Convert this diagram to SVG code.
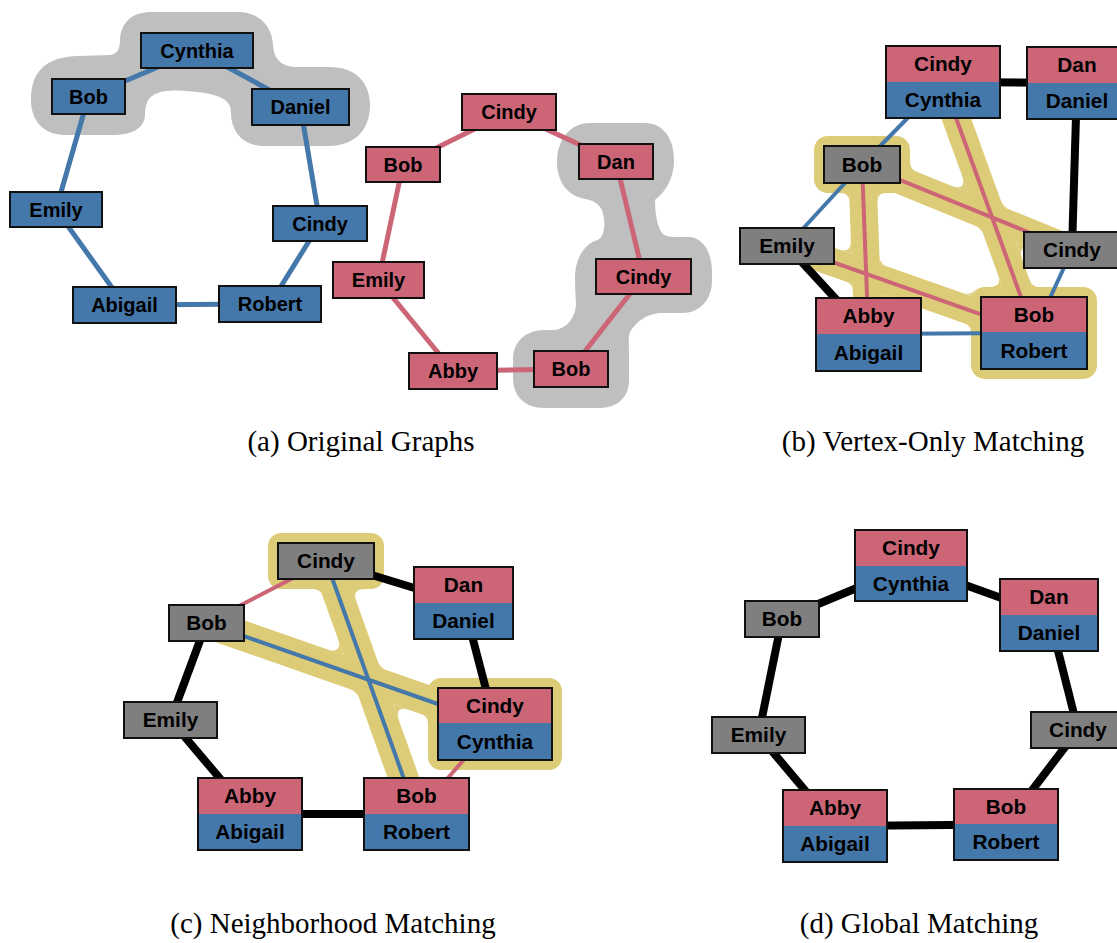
<svg xmlns="http://www.w3.org/2000/svg" width="1117" height="943" viewBox="0 0 1117 943">
  <style>
    .lbl { font-family: "Liberation Sans", Arial, Helvetica, sans-serif; font-weight: bold; font-size: 20px; text-anchor: middle; fill: #000; }
    .big .lbl { font-size: 20.8px; }
    .cap { font-family: "Liberation Serif", "Times New Roman", serif; font-size: 29px; text-anchor: middle; fill: #000; }
    .fb { fill: #4477AA; }
    .fp { fill: #CC6677; }
    .fg { fill: #7F7F7F; }
    .box { stroke: #111; stroke-width: 2; }
    .frame { fill: none; stroke: #111; stroke-width: 2; }
    .hull-gray { fill: #BFBFBF; }
    .hull-sand { fill: #DDCC77; }
    .band-sand { fill: none; stroke: #DDCC77; stroke-linecap: round; }
    .e { fill: none; stroke-linecap: butt; }
    .eb { stroke: #4477AA; }
    .ep { stroke: #CC6677; }
    .ek { stroke: #000; stroke-width: 8; }
    .w5 { stroke-width: 5; }
    .w4 { stroke-width: 4; }
  </style>

  <!-- ===================== (a) Original Graphs ===================== -->
  <g id="a-hulls">
    <!-- Bob / Cynthia / Daniel group -->
    <path class="hull-gray" d="M31,100 C31,72 45,57 78,56 L110,55 C118,54 120,48 120,40 C121,22 132,12 152,12 L238,12 C258,12 272,25 273,45 C274,60 282,67 298,67 L330,67 C355,67 370,82 370,105 C370,130 355,146 328,146 L265,146 C243,146 231,132 231,112 C231,101 222,96 205,93 C185,90 165,89 155,94 C147,98 145,106 145,114 C145,128 133,135 112,135 L65,135 C44,135 31,121 31,100 Z"/>
    <!-- Dan / Cindy / Bob group -->
    <path class="hull-gray" d="M590,123 L645,123 C663,123 674,138 674,160 C674,180 664,193 655,200 C655,215 658,228 662,233 C665,237 672,237 680,237 L688,237 C703,237 712,252 712,272 L712,280 C712,300 700,313 682,313 L660,313 C646,314 636,322 630,332 C628,337 629,345 629,355 L629,380 C629,398 617,408 598,408 L544,408 C525,408 513,396 513,378 L513,360 C513,341 526,330 545,330 L555,330 C567,328 575,318 576,305 C576,298 575,290 575,278 C575,258 585,243 598,240 C605,236 606,222 602,210 C598,203 592,200 585,199 C568,196 557,182 557,162 C557,140 570,123 590,123 Z"/>
  </g>

  <g id="a-connectors">
    <g class="e eb w5">
      <line x1="88.5" y1="96.5" x2="197" y2="50.5"/>
      <line x1="197" y1="50.5" x2="300.5" y2="107"/>
      <line x1="300.5" y1="107" x2="320" y2="223.5"/>
      <line x1="320" y1="223.5" x2="270" y2="304"/>
      <line x1="270" y1="304" x2="124.5" y2="305"/>
      <line x1="124.5" y1="305" x2="56" y2="209.5"/>
      <line x1="56" y1="209.5" x2="88.5" y2="96.5"/>
    </g>
    <g class="e ep w5">
      <line x1="403" y1="164.5" x2="509" y2="112"/>
      <line x1="509" y1="112" x2="616" y2="161.5"/>
      <line x1="616" y1="161.5" x2="643.5" y2="276.5"/>
      <line x1="643.5" y1="276.5" x2="571" y2="369"/>
      <line x1="571" y1="369" x2="453" y2="371"/>
      <line x1="453" y1="371" x2="378.5" y2="280"/>
      <line x1="378.5" y1="280" x2="403" y2="164.5"/>
    </g>
  </g>

  <g id="a-blue-cynthia"><rect class="fb box" x="141" y="33" width="112" height="35"/><text class="lbl" x="197" y="57.5">Cynthia</text></g>
  <g id="a-blue-bob"><rect class="fb box" x="52" y="79" width="73" height="35"/><text class="lbl" x="88.5" y="103.5">Bob</text></g>
  <g id="a-blue-daniel"><rect class="fb box" x="252" y="89" width="97" height="36"/><text class="lbl" x="300.5" y="114">Daniel</text></g>
  <g id="a-blue-emily"><rect class="fb box" x="10" y="192" width="92" height="35"/><text class="lbl" x="56" y="216.5">Emily</text></g>
  <g id="a-blue-cindy"><rect class="fb box" x="273" y="206" width="94" height="35"/><text class="lbl" x="320" y="230.5">Cindy</text></g>
  <g id="a-blue-abigail"><rect class="fb box" x="73" y="287" width="103" height="36"/><text class="lbl" x="124.5" y="312">Abigail</text></g>
  <g id="a-blue-robert"><rect class="fb box" x="219" y="286" width="102" height="36"/><text class="lbl" x="270" y="311">Robert</text></g>

  <g id="a-pink-cindy"><rect class="fp box" x="462" y="94" width="94" height="36"/><text class="lbl" x="509" y="119">Cindy</text></g>
  <g id="a-pink-bob"><rect class="fp box" x="366" y="147" width="74" height="35"/><text class="lbl" x="403" y="171.5">Bob</text></g>
  <g id="a-pink-dan"><rect class="fp box" x="579" y="144" width="74" height="35"/><text class="lbl" x="616" y="168.5">Dan</text></g>
  <g id="a-pink-emily"><rect class="fp box" x="333" y="262" width="91" height="36"/><text class="lbl" x="378.5" y="287">Emily</text></g>
  <g id="a-pink-cindy2"><rect class="fp box" x="596" y="259" width="95" height="35"/><text class="lbl" x="643.5" y="283.5">Cindy</text></g>
  <g id="a-pink-abby"><rect class="fp box" x="409" y="353" width="88" height="36"/><text class="lbl" x="453" y="378">Abby</text></g>
  <g id="a-pink-bob2"><rect class="fp box" x="534" y="351" width="74" height="36"/><text class="lbl" x="571" y="376">Bob</text></g>

  <text class="cap" x="361" y="451">(a) Original Graphs</text>

  <!-- ===================== (b) Vertex-Only Matching ===================== -->
  <g id="b-hulls">
    <rect class="hull-sand" x="814" y="136" width="96" height="57" rx="14"/>
    <rect class="hull-sand" x="971" y="287" width="126" height="92" rx="14"/>
    <g class="band-sand" stroke-width="28">
      <line x1="862" y1="164.5" x2="868.5" y2="334.5"/>
      <line x1="862" y1="164.5" x2="1072" y2="250"/>
      <line x1="787" y1="246" x2="1034" y2="333"/>
      <line x1="943" y1="82" x2="1034" y2="333"/>
    </g>
    <!-- rounded fillets in the concave corners of the region -->
    <g class="hull-sand">
      <path d="M879.54,256.85 L879.81,263.85 L886.41,266.18 Q879.81,263.85 879.54,256.85 Z"/>
      <path d="M850.9,240.56 L851.41,253.85 L838.87,249.43 Q851.41,253.85 850.9,240.56 Z"/>
      <path d="M852.83,290.95 L852.56,283.95 L845.96,281.62 Q852.56,283.95 852.83,290.95 Z"/>
      <path d="M881.47,307.2 L880.96,293.95 L893.5,298.4 Q880.96,293.95 881.47,307.2 Z"/>
      <path d="M949.51,185.02 L968.22,192.64 L961.34,173.65 Q968.22,192.64 949.51,185.02 Z"/>
      <path d="M1034.73,249.94 L1016.02,242.32 L1022.9,261.3 Q1016.02,242.32 1034.73,249.94 Z"/>
      <path d="M1009.64,209.5 L1003.16,206.86 L1000.77,200.28 Q1003.16,206.86 1009.64,209.5 Z"/>
      <path d="M974.6,225.46 L981.08,228.1 L983.47,234.68 Q981.08,228.1 974.6,225.46 Z"/>
      <path d="M910,161.9 L910,168.9 L916.48,171.54 Q910,168.9 910,161.9 Z"/>
      <path d="M840.4,193 L849.1,193 L849.43,201.69 Q849.1,193 840.4,193 Z"/>
      <path d="M886.4,193 L877.1,193 L877.46,202.29 Q877.1,193 886.4,193 Z"/>
      <path d="M989.53,287 L1002.43,287 L998.03,274.87 Q1002.43,287 989.53,287 Z"/>
      <path d="M963.8,293.1 L972,296 L975.1,287.9 Q972,296 963.8,293.1 Z"/>
      <path d="M971,332.6 L971,325.6 L964.4,323.27 Q971,325.6 971,332.6 Z"/>
      <path d="M1039.2,287 L1032.2,287 L1029.8,280.4 Q1032.2,287 1039.2,287 Z"/>
    </g>
  </g>

  <g id="b-connectors">
    <g class="e ek">
      <line x1="943" y1="82" x2="1077" y2="83"/>
      <line x1="1077" y1="83" x2="1072" y2="250"/>
      <line x1="787" y1="246" x2="868.5" y2="334.5"/>
    </g>
    <g class="e eb w4">
      <line x1="943" y1="82" x2="862" y2="164.5"/>
      <line x1="862" y1="164.5" x2="787" y2="246"/>
      <line x1="1072" y1="250" x2="1034" y2="333"/>
      <line x1="868.5" y1="334" x2="1034" y2="333"/>
    </g>
    <g class="e ep w4">
      <line x1="862" y1="164.5" x2="868.5" y2="334.5"/>
      <line x1="862" y1="164.5" x2="1072" y2="250"/>
      <line x1="787" y1="246" x2="1034" y2="333"/>
      <line x1="943" y1="82" x2="1034" y2="333"/>
    </g>
  </g>

  <g class="big">
    <g id="b-cindy-cynthia">
      <rect class="fp" x="886" y="46" width="114" height="36"/><rect class="fb" x="886" y="82" width="114" height="36"/>
      <rect class="frame" x="886" y="46" width="114" height="72"/>
      <text class="lbl" x="943" y="71">Cindy</text><text class="lbl" x="943" y="107">Cynthia</text>
    </g>
    <g id="b-dan-daniel">
      <rect class="fp" x="1027" y="47" width="100" height="36"/><rect class="fb" x="1027" y="83" width="100" height="36"/>
      <rect class="frame" x="1027" y="47" width="100" height="72"/>
      <text class="lbl" x="1077" y="72">Dan</text><text class="lbl" x="1077" y="108">Daniel</text>
    </g>
    <g id="b-bob"><rect class="fg box" x="824" y="146" width="76" height="37"/><text class="lbl" x="862" y="171.5">Bob</text></g>
    <g id="b-emily"><rect class="fg box" x="740" y="228" width="94" height="36"/><text class="lbl" x="787" y="253">Emily</text></g>
    <g id="b-cindy"><rect class="fg box" x="1024" y="232" width="96" height="36"/><text class="lbl" x="1072" y="257">Cindy</text></g>
    <g id="b-abby-abigail">
      <rect class="fp" x="816" y="298" width="105" height="36"/><rect class="fb" x="816" y="334" width="105" height="37"/>
      <rect class="frame" x="816" y="298" width="105" height="73"/>
      <text class="lbl" x="868.5" y="323">Abby</text><text class="lbl" x="868.5" y="359.5">Abigail</text>
    </g>
    <g id="b-bob-robert">
      <rect class="fp" x="981" y="297" width="106" height="35"/><rect class="fb" x="981" y="332" width="106" height="37"/>
      <rect class="frame" x="981" y="297" width="106" height="72"/>
      <text class="lbl" x="1034" y="321.5">Bob</text><text class="lbl" x="1034" y="357.5">Robert</text>
    </g>
  </g>

  <text class="cap" x="933" y="451">(b) Vertex-Only Matching</text>

  <!-- ===================== (c) Neighborhood Matching ===================== -->
  <g id="c-hulls">
    <rect class="hull-sand" x="268" y="533" width="116" height="56" rx="13"/>
    <rect class="hull-sand" x="428" y="678" width="134" height="92" rx="13"/>
    <g class="band-sand" stroke-width="30">
      <line x1="206.5" y1="623" x2="495" y2="724"/>
      <line x1="326" y1="561" x2="416.5" y2="814"/>
    </g>
    <!-- rounded fillets in the concave corners of the region -->
    <g class="hull-sand">
      <path d="M411.03,710.49 L393.19,704.25 L399.56,722.05 Q393.19,704.25 411.03,710.49 Z"/>
      <path d="M325.91,648.91 L343.75,655.15 L337.38,637.35 Q343.75,655.15 325.91,648.91 Z"/>
      <path d="M386.8,670.22 L380.19,667.91 L377.83,661.32 Q380.19,667.91 386.8,670.22 Z"/>
      <path d="M350.14,689.18 L356.75,691.49 L359.11,698.08 Q356.75,691.49 350.14,689.18 Z"/>
      <path d="M313.1,589 L320.1,589 L322.46,595.59 Q320.1,589 313.1,589 Z"/>
      <path d="M364.8,589 L351.9,589 L356.24,601.15 Q351.9,589 364.8,589 Z"/>
      <path d="M428,723.4 L428,716.4 L421.39,714.09 Q428,716.4 428,723.4 Z"/>
    </g>
  </g>

  <g id="c-connectors">
    <g class="e ek">
      <line x1="326" y1="561" x2="463.5" y2="603"/>
      <line x1="463.5" y1="603" x2="495" y2="724"/>
      <line x1="206.5" y1="623" x2="170.5" y2="720"/>
      <line x1="170.5" y1="720" x2="250" y2="814"/>
      <line x1="250" y1="814" x2="416.5" y2="814"/>
    </g>
    <g class="e ep w4">
      <line x1="206.5" y1="623" x2="326" y2="561"/>
      <line x1="495" y1="724" x2="416.5" y2="814"/>
    </g>
    <g class="e eb w4">
      <line x1="206.5" y1="623" x2="495" y2="724"/>
      <line x1="326" y1="561" x2="416.5" y2="814"/>
    </g>
  </g>

  <g class="big">
    <g id="c-cindy"><rect class="fg box" x="278" y="543" width="96" height="36"/><text class="lbl" x="326" y="568">Cindy</text></g>
    <g id="c-dan-daniel">
      <rect class="fp" x="414" y="567" width="99" height="36"/><rect class="fb" x="414" y="603" width="99" height="36"/>
      <rect class="frame" x="414" y="567" width="99" height="72"/>
      <text class="lbl" x="463.5" y="592">Dan</text><text class="lbl" x="463.5" y="628">Daniel</text>
    </g>
    <g id="c-bob"><rect class="fg box" x="169" y="605" width="75" height="36"/><text class="lbl" x="206.5" y="630">Bob</text></g>
    <g id="c-emily"><rect class="fg box" x="124" y="702" width="93" height="36"/><text class="lbl" x="170.5" y="727">Emily</text></g>
    <g id="c-cindy-cynthia">
      <rect class="fp" x="438" y="688" width="114" height="35"/><rect class="fb" x="438" y="723" width="114" height="37"/>
      <rect class="frame" x="438" y="688" width="114" height="72"/>
      <text class="lbl" x="495" y="712.5">Cindy</text><text class="lbl" x="495" y="748.5">Cynthia</text>
    </g>
    <g id="c-abby-abigail">
      <rect class="fp" x="198" y="778" width="104" height="36"/><rect class="fb" x="198" y="814" width="104" height="36"/>
      <rect class="frame" x="198" y="778" width="104" height="72"/>
      <text class="lbl" x="250" y="803">Abby</text><text class="lbl" x="250" y="839">Abigail</text>
    </g>
    <g id="c-bob-robert">
      <rect class="fp" x="364" y="778" width="105" height="36"/><rect class="fb" x="364" y="814" width="105" height="36"/>
      <rect class="frame" x="364" y="778" width="105" height="72"/>
      <text class="lbl" x="416.5" y="803">Bob</text><text class="lbl" x="416.5" y="839">Robert</text>
    </g>
  </g>

  <text class="cap" x="333" y="933">(c) Neighborhood Matching</text>

  <!-- ===================== (d) Global Matching ===================== -->
  <g id="d-connectors">
    <g class="e ek" stroke-width="8.5">
      <line x1="782" y1="619" x2="911" y2="565.5"/>
      <line x1="911" y1="565.5" x2="1049" y2="615"/>
      <line x1="1049" y1="615" x2="1078" y2="730"/>
      <line x1="1078" y1="730" x2="1006" y2="824.5"/>
      <line x1="1006" y1="824.5" x2="835" y2="826"/>
      <line x1="835" y1="826" x2="758.5" y2="735"/>
      <line x1="758.5" y1="735" x2="782" y2="619"/>
    </g>
  </g>

  <g class="big">
    <g id="d-cindy-cynthia">
      <rect class="fp" x="855" y="530" width="112" height="36"/><rect class="fb" x="855" y="566" width="112" height="35"/>
      <rect class="frame" x="855" y="530" width="112" height="71"/>
      <text class="lbl" x="911" y="555">Cindy</text><text class="lbl" x="911" y="590.5">Cynthia</text>
    </g>
    <g id="d-dan-daniel">
      <rect class="fp" x="1000" y="579" width="98" height="36"/><rect class="fb" x="1000" y="615" width="98" height="36"/>
      <rect class="frame" x="1000" y="579" width="98" height="72"/>
      <text class="lbl" x="1049" y="604">Dan</text><text class="lbl" x="1049" y="640">Daniel</text>
    </g>
    <g id="d-bob"><rect class="fg box" x="745" y="601" width="74" height="36"/><text class="lbl" x="782" y="626">Bob</text></g>
    <g id="d-emily"><rect class="fg box" x="712" y="717" width="93" height="36"/><text class="lbl" x="758.5" y="742">Emily</text></g>
    <g id="d-cindy"><rect class="fg box" x="1031" y="712" width="94" height="36"/><text class="lbl" x="1078" y="737">Cindy</text></g>
    <g id="d-abby-abigail">
      <rect class="fp" x="783" y="790" width="104" height="36"/><rect class="fb" x="783" y="826" width="104" height="36"/>
      <rect class="frame" x="783" y="790" width="104" height="72"/>
      <text class="lbl" x="835" y="815">Abby</text><text class="lbl" x="835" y="851">Abigail</text>
    </g>
    <g id="d-bob-robert">
      <rect class="fp" x="954" y="789" width="104" height="35"/><rect class="fb" x="954" y="824" width="104" height="36"/>
      <rect class="frame" x="954" y="789" width="104" height="71"/>
      <text class="lbl" x="1006" y="813.5">Bob</text><text class="lbl" x="1006" y="849">Robert</text>
    </g>
  </g>

  <text class="cap" x="919" y="933">(d) Global Matching</text>
</svg>
